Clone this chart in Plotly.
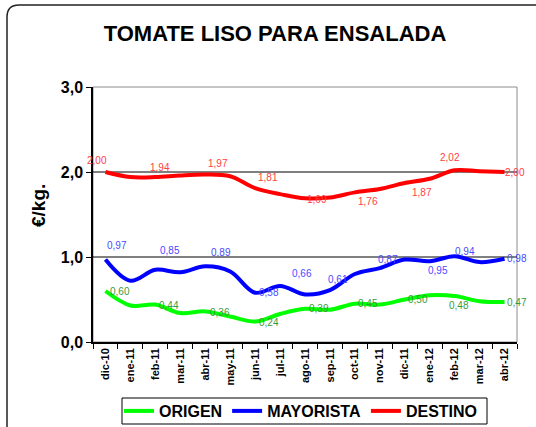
import plotly.graph_objects as go

# Monthly prices (€/kg) for smooth salad tomato
months = ["dic-10", "ene-11", "feb-11", "mar-11", "abr-11", "may-11", "jun-11",
          "jul-11", "ago-11", "sep-11", "oct-11", "nov-11", "dic-11", "ene-12",
          "feb-12", "mar-12", "abr-12"]
origen = [0.60, 0.43, 0.44, 0.34, 0.36, 0.30, 0.24, 0.33, 0.39, 0.38, 0.45,
          0.44, 0.50, 0.55, 0.54, 0.48, 0.47]
mayorista = [0.97, 0.72, 0.85, 0.82, 0.89, 0.83, 0.58, 0.66, 0.56, 0.61, 0.80,
             0.87, 0.97, 0.95, 1.01, 0.94, 0.98]
destino = [2.00, 1.94, 1.94, 1.96, 1.97, 1.95, 1.81, 1.74, 1.69, 1.70, 1.76,
           1.80, 1.87, 1.92, 2.02, 2.01, 2.00]

# Which months carry a value label, with the label's pixel offset (dx, dy)
origen_labels = {0: (15, 0), 2: (14, -1), 4: (15, -1), 6: (14, -1), 8: (14, 0),
                 10: (13, 0), 12: (13, 0), 15: (-21, -4), 16: (12, 0)}
mayorista_labels = {0: (12, 14), 2: (15, 19), 4: (16, 14), 6: (14, 0), 7: (22, 12),
                    9: (8, 11), 11: (8, 9), 13: (8, -9), 15: (-15, 11), 16: (12, 0)}
destino_labels = {0: (-8, 12), 2: (5, 10), 4: (13, 11), 6: (13, 11), 8: (12, -1),
                  10: (13, -9), 12: (17, -9), 14: (-5, 13), 16: (10, 0)}

W, H = 536, 427
ML, MR, MT, MB = 93, 19, 87, 85
PW, PH = W - ML - MR, H - MT - MB


def px(x):
    return (x - ML) / PW


def py(y):
    return (H - MB - y) / PH


FONT = "Arial, Liberation Sans, sans-serif"

fig = go.Figure()
series = [
    ("ORIGEN", origen, "#00FF00", "#3A9A3A", origen_labels),
    ("MAYORISTA", mayorista, "#0000FF", "#4A4AFF", mayorista_labels),
    ("DESTINO", destino, "#FF0000", "#FF4040", destino_labels),
]
for name, vals, color, lab_color, labels in series:
    fig.add_trace(go.Scatter(
        x=months, y=vals, name=name, mode="lines",
        line=dict(color=color, width=4, shape="spline", smoothing=1.0),
    ))
    for i, (dx, dy) in labels.items():
        fig.add_annotation(
            x=months[i], y=vals[i], text=f"{vals[i]:.2f}".replace(".", ","),
            showarrow=False, xshift=dx, yshift=dy,
            font=dict(family=FONT, size=10, color=lab_color),
        )

shapes = [
    # plot area frame
    dict(type="rect", xref="paper", yref="paper", x0=0, x1=1, y0=0, y1=1,
         line=dict(color="#8C8C8C", width=1), layer="below"),
    # chart frame with a rounded corner
    dict(type="path", xref="paper", yref="paper",
         path=(f"M {px(7)},{py(440)} L {px(7)},{py(17)} "
               f"Q {px(7)},{py(5)} {px(19)},{py(5)} L {px(545)},{py(5)}"),
         line=dict(color="#222222", width=1.5)),
    # legend frame
    dict(type="rect", xref="paper", yref="paper", x0=px(122), x1=px(487),
         y0=py(424), y1=py(398), line=dict(color="black", width=1)),
]
for g in [1, 2]:
    shapes.append(dict(type="line", xref="paper", yref="y", x0=0, x1=1, y0=g, y1=g,
                       line=dict(color="black", width=1), layer="below"))

fig.add_annotation(
    x=px(38), y=py(206), xref="paper", yref="paper", text="<b>€/kg.</b>",
    textangle=-90, showarrow=False, xanchor="center", yanchor="middle",
    font=dict(family=FONT, size=19, color="black"),
)

fig.update_layout(
    width=W, height=H,
    margin=dict(l=ML, r=MR, t=MT, b=MB, autoexpand=False),
    paper_bgcolor="white", plot_bgcolor="white",
    separators=",.",
    title=dict(text="<b>TOMATE LISO PARA ENSALADA</b>", x=275 / W, xref="container",
               y=1 - 33 / H, xanchor="center", yanchor="middle",
               font=dict(family=FONT, size=22, color="black")),
    shapes=shapes,
    showlegend=True,
    legend=dict(orientation="h", x=px(301), xanchor="center", y=py(411), yanchor="middle",
                borderwidth=0, bgcolor="rgba(0,0,0,0)",
                font=dict(family=FONT, size=16, color="black", weight="bold"),
                itemwidth=30, traceorder="normal"),
    xaxis=dict(type="category", range=[-0.5, 16.5], tickson="boundaries",
               ticks="outside", ticklen=5, tickcolor="black", showgrid=False,
               showline=True, linecolor="black", linewidth=1.5, tickangle=-90,
               automargin=False,
               tickfont=dict(family=FONT, size=11, color="black", weight="bold")),
    yaxis=dict(range=[0, 3], tickvals=[0, 1, 2, 3], tickformat=".1f",
               ticks="outside", ticklen=5, tickcolor="black", showgrid=False,
               zeroline=False, showline=True, linecolor="black", linewidth=1.5,
               automargin=False,
               tickfont=dict(family=FONT, size=16, color="black", weight="bold")),
)

fig.write_html("out.html")
